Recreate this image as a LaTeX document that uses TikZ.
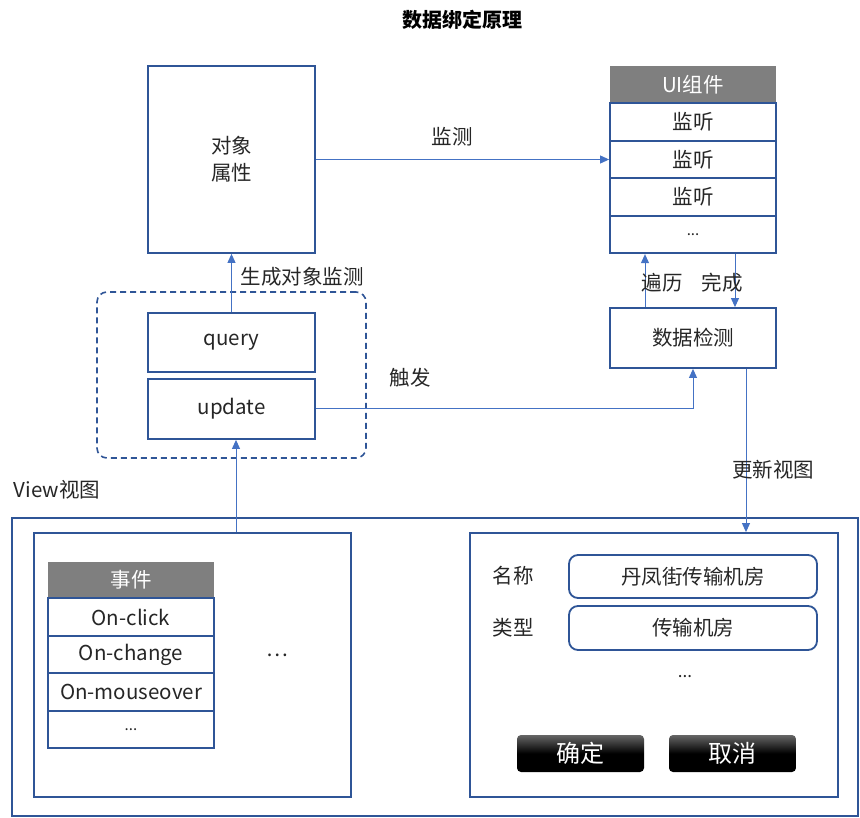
\documentclass[tikz,border=0pt]{standalone}
\usepackage{fontspec}
\setmainfont{Noto Sans CJK SC}
\usetikzlibrary{arrows.meta,calc}
\definecolor{bd}{HTML}{2F5597}
\definecolor{ar}{HTML}{4472C4}
\definecolor{hd}{HTML}{7F7F7F}
\definecolor{tx}{HTML}{262626}
\begin{document}
\begin{tikzpicture}[x=1pt,y=-1pt,
  every node/.style={text=tx,font=\fontsize{20.5}{25}\selectfont,inner sep=0pt},
  box/.style={draw=bd,line width=1.8pt,fill=white,rectangle},
  hdr/.style={fill=hd,text=white,rectangle},
  field/.style={draw=bd,line width=1.8pt,rounded corners=9pt,fill=white,rectangle},
  btn/.style={rectangle,rounded corners=4pt,top color=black!60,bottom color=black,middle color=black,text=white,font=\fontsize{24}{28}\selectfont},
  arr/.style={draw=ar,line width=1pt,-{Triangle[length=9pt,width=8pt]}}]
\useasboundingbox (0,0) rectangle (860,818);
% title
\node[font=\fontsize{20}{24}\selectfont\bfseries,text=black] (title) at (462,20) {数据绑定原理};
% object box
\node[box,minimum width=167,minimum height=187,align=center] (obj) at (231.5,159.5) {对象\\[2pt]属性};
% UI component table
\node[hdr,minimum width=166,minimum height=37] (uih) at (693,84.5) {UI组件};
\node[box,minimum width=166,minimum height=37.5] (r1) at (693,122) {监听};
\node[box,minimum width=166,minimum height=37.5] (r2) at (693,159.5) {监听};
\node[box,minimum width=166,minimum height=37.5] (r3) at (693,197) {监听};
\node[box,minimum width=166,minimum height=37.5] (r4) at (693,234.5) {\fontsize{15}{18}\selectfont ...};
% dashed group
\node[draw=bd,line width=1.6pt,dash pattern=on 6pt off 4pt,rounded corners=10pt,rectangle,minimum width=269,minimum height=166] (grp) at (231.5,375) {};
\node[box,minimum width=167,minimum height=59] (q) at (231.5,342.5) {query};
\node[box,minimum width=167,minimum height=60] (u) at (231.5,409) {update};
% data detection
\node[box,minimum width=166,minimum height=60] (det) at (693,338) {数据检测};
% view area
\node[draw=bd,line width=1.6pt,rectangle,minimum width=846,minimum height=298] (view) at (435,667) {};
\node[box,minimum width=317,minimum height=264] (lb) at (192.5,665) {};
\node[box,minimum width=368,minimum height=264] (rb) at (654,665) {};
\node (viewlbl) at (57,490) {View视图};
% event table
\node[hdr,minimum width=166,minimum height=36] (evh) at (131,580) {事件};
\node[box,minimum width=166,minimum height=37.5] (e1) at (131,617) {On-click};
\node[box,minimum width=166,minimum height=37.5] (e2) at (131,654.5) {On-change};
\node[box,minimum width=166,minimum height=37.5] (e3) at (131,692) {On-mouseover};
\node[box,minimum width=166,minimum height=37.5] (e4) at (131,729.5) {\fontsize{15}{18}\selectfont ...};
\node (ldots) at (277,655) {…};
% form
\node (name) at (513,576) {名称};
\node (type) at (513,628) {类型};
\node[field,minimum width=248,minimum height=43] (f1) at (693,576.5) {丹凤街传输机房};
\node[field,minimum width=248,minimum height=44] (f2) at (693,628) {传输机房};
\node (rdots) at (685,677) {\fontsize{17}{20}\selectfont ...};
\node[btn,minimum width=127,minimum height=37] (ok) at (580.5,753.5) {确定};
\node[btn,minimum width=127,minimum height=37] (cancel) at (732.5,753.5) {取消};
% connectors
\draw[arr] (obj.east) -- (r2.west);
\node (l1) at (452,137) {监测};
\draw[arr] (q.north) -- (obj.south);
\node (l2) at (302,277) {生成对象监测};
\draw[arr] ([xshift=-48pt]det.north) -- ([xshift=-48pt]r4.south);
\node (l3) at (662,283) {遍历};
\draw[arr] ([xshift=42pt]r4.south) -- ([xshift=42pt]det.north);
\node (l4) at (722,283) {完成};
\draw[arr] (u.east) -| (det.south);
\node (l5) at (410,378) {触发};
\draw[arr] ([xshift=53pt]det.south) -- ([xshift=53pt]det.south |- rb.north);
\node (l6) at (773,470) {更新视图};
\draw[arr] ([xshift=4.5pt]u.south |- lb.north) -- ([xshift=4.5pt]u.south);
\end{tikzpicture}
\end{document}
